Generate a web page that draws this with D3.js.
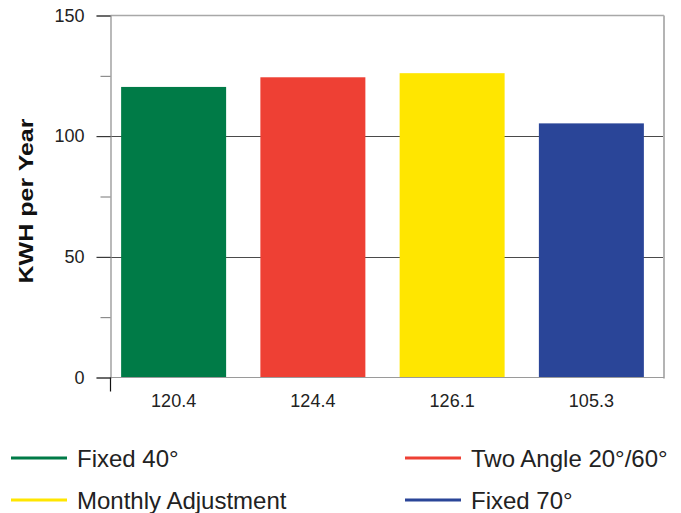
<!DOCTYPE html>
<html>
<head>
<meta charset="utf-8">
<script src="https://cdn.jsdelivr.net/npm/d3@7"></script>
<style>
  body { margin: 0; background: #fff; }
  svg { display: block; font-family: "Liberation Sans", Arial, sans-serif; }
</style>
</head>
<body>
<div id="chart"></div>
<script>
// chart values
const categories = ['Fixed 40°', 'Two Angle 20°/60°', 'Monthly Adjustment', 'Fixed 70°'];
const kwh = [120.4, 124.4, 126.1, 105.3];
const barLabels = ['120.4', '124.4', '126.1', '105.3'];
const yTicks = [0, 25, 50, 75, 100, 125, 150];
const barColors = ['#007b47', '#ee4034', '#ffe600', '#2a4598'];

const width = 681, height = 513;
const plot = { left: 110.5, right: 664, top: 15.5, bottom: 377.5 };

const svg = d3.select('#chart').append('svg')
    .attr('width', width)
    .attr('height', height);

const x = d3.scaleBand()
    .domain(d3.range(categories.length))
    .range([104, 661])
    .paddingInner(0.246)
    .paddingOuter(0.123);

const y = d3.scaleLinear()
    .domain([0, 150])
    .range([plot.bottom, plot.top]);

// gridlines at 50 and 100
svg.append('g')
    .selectAll('line')
    .data([50, 100])
    .join('line')
    .attr('x1', plot.left)
    .attr('x2', plot.right)
    .attr('y1', d => Math.round(y(d)) + 0.5)
    .attr('y2', d => Math.round(y(d)) + 0.5)
    .attr('stroke', '#4a4a4a')
    .attr('stroke-width', 1);

// bars
svg.append('g')
    .selectAll('rect')
    .data(kwh)
    .join('rect')
    .attr('x', (d, i) => x(i))
    .attr('width', x.bandwidth())
    .attr('y', d => y(d))
    .attr('height', d => y(0) - y(d))
    .attr('fill', (d, i) => barColors[i]);

// frame: top, right, bottom
svg.append('line')
    .attr('x1', plot.left).attr('x2', plot.right)
    .attr('y1', plot.top).attr('y2', plot.top)
    .attr('stroke', '#a8a8a8').attr('stroke-width', 1.5);
svg.append('line')
    .attr('x1', plot.right).attr('x2', plot.right)
    .attr('y1', plot.top).attr('y2', plot.bottom + 1)
    .attr('stroke', '#b4b4b4').attr('stroke-width', 2);
svg.append('line')
    .attr('x1', plot.left).attr('x2', plot.right)
    .attr('y1', plot.bottom).attr('y2', plot.bottom)
    .attr('stroke', '#9a9a9a').attr('stroke-width', 1.2);

// y axis
const yAxis = d3.axisLeft(y)
    .tickValues(yTicks)
    .tickSize(14)
    .tickPadding(12)
    .tickFormat(d => d % 50 === 0 ? d : '');

const yg = svg.append('g')
    .attr('transform', `translate(${plot.left},0)`)
    .call(yAxis);
yg.select('.domain').attr('stroke', '#8c8c8c').attr('stroke-width', 1.2);
yg.selectAll('.tick line')
    .attr('stroke', d => d % 50 === 0 ? '#111' : '#777')
    .attr('x2', d => d % 50 === 0 ? -14 : -10);
yg.selectAll('.tick text')
    .attr('fill', '#222')
    .style('font-size', '18px');

// axis stub below the baseline
svg.append('line')
    .attr('x1', plot.left).attr('x2', plot.left)
    .attr('y1', plot.bottom).attr('y2', plot.bottom + 14)
    .attr('stroke', '#111').attr('stroke-width', 1.2);

// x axis labels (values under bars)
const xg = svg.append('g')
    .attr('transform', `translate(0,${plot.bottom})`)
    .call(d3.axisBottom(x).tickSize(0).tickPadding(17).tickFormat(i => barLabels[i]));
xg.select('.domain').remove();
xg.selectAll('.tick text')
    .attr('fill', '#222')
    .style('font-size', '18px');

// y axis title
svg.append('text')
    .attr('transform', `translate(33,201) rotate(-90)`)
    .attr('text-anchor', 'middle')
    .attr('textLength', 165)
    .attr('lengthAdjust', 'spacingAndGlyphs')
    .style('font-size', '21px')
    .style('font-weight', 'bold')
    .attr('fill', '#111')
    .text('KWH per Year');

// legend
const legendPos = [[11, 458], [405, 458], [11, 500], [405, 500]];
const legend = svg.append('g')
    .selectAll('g')
    .data(categories)
    .join('g')
    .attr('transform', (d, i) => `translate(${legendPos[i][0]},${legendPos[i][1]})`);
legend.append('line')
    .attr('x1', 0).attr('x2', 56)
    .attr('stroke', (d, i) => barColors[i])
    .attr('stroke-width', 3);
legend.append('text')
    .attr('x', 66)
    .attr('dy', '0.36em')
    .style('font-size', '24px')
    .attr('fill', '#222')
    .text(d => d);
</script>
</body>
</html>
